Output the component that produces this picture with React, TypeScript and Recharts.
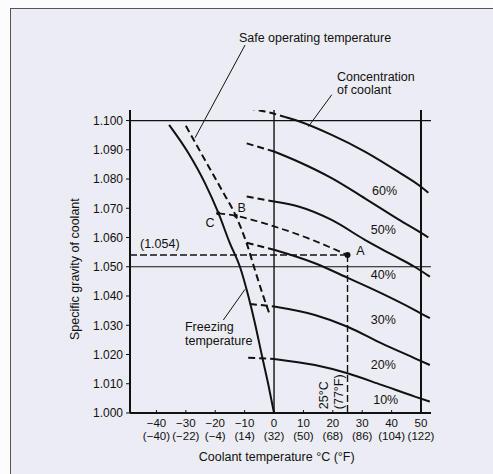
import React from 'react';
import {
  ComposedChart,
  Line,
  XAxis,
  YAxis,
  ReferenceLine,
  ReferenceDot,
} from 'recharts';

// Coolant temperature (°C) vs specific gravity
const freezing = [
  { t: -35.7, sg: 1.0985 },
  { t: -29.1, sg: 1.0888 },
  { t: -23.5, sg: 1.0786 },
  { t: -18.9, sg: 1.0683 },
  { t: -15.0, sg: 1.058 },
  { t: -11.6, sg: 1.05 },
  { t: -8.7, sg: 1.0398 },
  { t: -6.5, sg: 1.0307 },
  { t: -4.2, sg: 1.02 },
  { t: -2.0, sg: 1.01 },
  { t: 0, sg: 1.0 },
];

const safeOperating = [
  { t: -30.0, sg: 1.0982 },
  { t: -23.5, sg: 1.0865 },
  { t: -17.8, sg: 1.0763 },
  { t: -13.0, sg: 1.0674 },
  { t: -9.3, sg: 1.058 },
  { t: -6.5, sg: 1.0489 },
  { t: -3.6, sg: 1.0398 },
  { t: -1.4, sg: 1.0335 },
];

// concentration curves: dashed lead-in below 0 °C, solid above
const c60Dash = [
  { t: -8.9, sg: 1.1042 },
  { t: -3.1, sg: 1.1031 },
  { t: 3.7, sg: 1.1012 },
];
const c60 = [
  { t: 3.7, sg: 1.1012 },
  { t: 7.7, sg: 1.1 },
  { t: 19.6, sg: 1.0951 },
  { t: 30.9, sg: 1.0894 },
  { t: 42.2, sg: 1.0825 },
  { t: 50.2, sg: 1.0772 },
  { t: 52.5, sg: 1.0753 },
];
const c50Dash = [
  { t: -9.3, sg: 1.0922 },
  { t: 0, sg: 1.0894 },
];
const c50 = [
  { t: 0, sg: 1.0894 },
  { t: 8.3, sg: 1.0859 },
  { t: 19.6, sg: 1.0803 },
  { t: 30.9, sg: 1.0734 },
  { t: 42.3, sg: 1.0662 },
  { t: 50.2, sg: 1.0615 },
  { t: 52.5, sg: 1.06 },
];
const c40Dash = [
  { t: -9.3, sg: 1.074 },
  { t: 0, sg: 1.0723 },
];
const c40 = [
  { t: 0, sg: 1.0723 },
  { t: 8.3, sg: 1.0706 },
  { t: 19.6, sg: 1.066 },
  { t: 30.9, sg: 1.0592 },
  { t: 40.0, sg: 1.0542 },
  { t: 47.8, sg: 1.05 },
  { t: 53.0, sg: 1.0466 },
];
const c30Dash = [
  { t: -9.3, sg: 1.0582 },
  { t: 0, sg: 1.0558 },
];
const c30 = [
  { t: 0, sg: 1.0558 },
  { t: 13.9, sg: 1.0512 },
  { t: 25.3, sg: 1.0461 },
  { t: 36.6, sg: 1.0409 },
  { t: 47.9, sg: 1.0352 },
  { t: 53.0, sg: 1.0324 },
];
const c20Dash = [
  { t: -8.2, sg: 1.0373 },
  { t: 0, sg: 1.0364 },
];
const c20 = [
  { t: 0, sg: 1.0364 },
  { t: 13.9, sg: 1.0335 },
  { t: 25.0, sg: 1.0295 },
  { t: 36.6, sg: 1.0238 },
  { t: 47.9, sg: 1.0187 },
  { t: 53.0, sg: 1.0164 },
];
const c10Dash = [
  { t: -8.8, sg: 1.0189 },
  { t: 0, sg: 1.0185 },
];
const c10 = [
  { t: 0, sg: 1.0185 },
  { t: 13.9, sg: 1.0164 },
  { t: 25.0, sg: 1.0136 },
  { t: 36.6, sg: 1.0096 },
  { t: 47.9, sg: 1.0056 },
  { t: 53.0, sg: 1.0039 },
];

// worked example: C -> B -> A, and the 1.054 / 25 °C read-off lines
const exampleLine = [
  { t: -19.0, sg: 1.0683 },
  { t: -13.0, sg: 1.0674 },
  { t: 0, sg: 1.0638 },
  { t: 11.7, sg: 1.0597 },
  { t: 25, sg: 1.054 },
];
const readSg = [
  { t: -49, sg: 1.054 },
  { t: 25, sg: 1.054 },
];
const readTemp = [
  { t: 25, sg: 1.054 },
  { t: 25, sg: 1.0 },
];
const pointA = { t: 25, sg: 1.054 };
const pointB = { t: -13.0, sg: 1.0674 };
const pointC = { t: -19.0, sg: 1.0683 };

const yTicks = [1.0, 1.01, 1.02, 1.03, 1.04, 1.05, 1.06, 1.07, 1.08, 1.09, 1.1];
const xTicks = [-40, -30, -20, -10, 0, 10, 20, 30, 40, 50];
const xTicksF = ['(−40)', '(−22)', '(−4)', '(14)', '(32)', '(50)', '(68)', '(86)', '(104)', '(122)'];

// annotation texts, placed in data coordinates
const notes = [
  { t: 13.95, sg: 1.1282, text: 'Safe operating temperature', anchor: 'middle' },
  { t: 21.4, sg: 1.115, text: 'Concentration', anchor: 'start' },
  { t: 21.4, sg: 1.1105, text: 'of coolant', anchor: 'start' },
  { t: -30.3, sg: 1.0295, text: 'Freezing', anchor: 'start' },
  { t: -30.3, sg: 1.0246, text: 'temperature', anchor: 'start' },
  { t: -45.6, sg: 1.0577, text: '(1.054)', anchor: 'start' },
  { t: 28.0, sg: 1.0554, text: 'A', anchor: 'start' },
  { t: -11.0, sg: 1.07, text: 'B', anchor: 'middle' },
  { t: -21.8, sg: 1.0651, text: 'C', anchor: 'middle' },
  { t: 37.6, sg: 1.0759, text: '60%', anchor: 'middle' },
  { t: 37.2, sg: 1.0626, text: '50%', anchor: 'middle' },
  { t: 37.2, sg: 1.0472, text: '40%', anchor: 'middle' },
  { t: 37.2, sg: 1.0318, text: '30%', anchor: 'middle' },
  { t: 37.2, sg: 1.0164, text: '20%', anchor: 'middle' },
  { t: 38.0, sg: 1.0044, text: '10%', anchor: 'middle' },
  { t: 0.9, sg: 0.98506, text: 'Coolant temperature °C (°F)', anchor: 'middle' },
];
const rotatedNotes = [
  { t: 17.0, sg: 1.0013, text: '25°C', anchor: 'start' },
  { t: 22.1, sg: 1.0013, text: '(77°F)', anchor: 'start' },
  { t: -67.7, sg: 1.0492, text: 'Specific gravity of coolant', anchor: 'middle' },
];
const leaders = [
  [{ t: -9.86, sg: 1.1258 }, { t: -26.87, sg: 1.0941 }],
  [{ t: 19.63, sg: 1.1088 }, { t: 11.67, sg: 1.0979 }],
  [{ t: -17.24, sg: 1.0318 }, { t: -9.86, sg: 1.0423 }],
];

const INK = '#111';
const FONT = '"Liberation Sans", Arial, Helvetica, sans-serif';

const TempTick = (props: any) => {
  const { x, y, payload, index } = props;
  const c = payload.value < 0 ? `−${Math.abs(payload.value)}` : `${payload.value}`;
  return (
    <g>
      <line x1={x} x2={x} y1={y} y2={y - 3} stroke={INK} strokeWidth={1} />
      <text x={x} y={y + 14} textAnchor="middle" fontSize={11.5} fill={INK} fontFamily={FONT}>
        {c}
      </text>
      <text x={x} y={y + 26.5} textAnchor="middle" fontSize={11.5} fill={INK} fontFamily={FONT}>
        {xTicksF[index]}
      </text>
    </g>
  );
};

const solid = (data: any[], key: string) => (
  <Line
    key={key}
    data={data}
    dataKey="sg"
    type="monotone"
    stroke={INK}
    strokeWidth={2}
    dot={false}
    isAnimationActive={false}
  />
);

const dashed = (data: any[], key: string, width = 2, dash = '7 4', curve: any = 'monotone') => (
  <Line
    key={key}
    data={data}
    dataKey="sg"
    type={curve}
    stroke={INK}
    strokeWidth={width}
    strokeDasharray={dash}
    dot={false}
    isAnimationActive={false}
  />
);

export default function App() {
  return (
    <div
      style={{
        position: 'absolute',
        left: 0,
        top: 0,
        width: 493,
        height: 474,
        overflow: 'hidden',
        background: '#fcfcfd',
      }}
    >
      <div
        style={{
          position: 'absolute',
          left: 10,
          top: 8,
          width: 500,
          height: 480,
          border: '1px solid #555',
          background: '#ececf4',
        }}
      />
      <div style={{ position: 'absolute', left: 0, top: 0 }}>
        <ComposedChart width={493} height={474} margin={{ top: 110, right: 62, bottom: 31, left: 70 }}>
          <XAxis
            dataKey="t"
            type="number"
            domain={[-49, 53.4]}
            allowDataOverflow
            ticks={xTicks}
            interval={0}
            tickSize={0}
            tickMargin={0}
            tickLine={false}
            tick={<TempTick />}
            height={30}
            axisLine={{ stroke: INK, strokeWidth: 2 }}
          />
          <YAxis
            type="number"
            domain={[1.0, 1.1036]}
            allowDataOverflow
            ticks={yTicks}
            interval={0}
            width={60}
            tickFormatter={(v: number) => v.toFixed(3)}
            tick={{ fill: INK, fontSize: 12, fontFamily: FONT }}
            tickSize={4}
            tickMargin={3}
            tickLine={{ stroke: INK }}
            axisLine={{ stroke: INK, strokeWidth: 2 }}
          />

          <ReferenceLine y={1.1} stroke={INK} strokeWidth={1.2} />
          <ReferenceLine y={1.05} stroke={INK} strokeWidth={1.2} />
          <ReferenceLine x={0} stroke={INK} strokeWidth={1.4} />
          <ReferenceLine x={50} stroke={INK} strokeWidth={2} />

          {solid(freezing, 'freezing')}
          {dashed(safeOperating, 'safe')}

          {dashed(c60Dash, 'c60d')}
          {solid(c60, 'c60')}
          {dashed(c50Dash, 'c50d')}
          {solid(c50, 'c50')}
          {dashed(c40Dash, 'c40d')}
          {solid(c40, 'c40')}
          {dashed(c30Dash, 'c30d')}
          {solid(c30, 'c30')}
          {dashed(c20Dash, 'c20d')}
          {solid(c20, 'c20')}
          {dashed(c10Dash, 'c10d')}
          {solid(c10, 'c10')}

          {dashed(exampleLine, 'example', 1.8, '7 4')}
          {dashed(readSg, 'readSg', 1.4, '7 3', 'linear')}
          {dashed(readTemp, 'readTemp', 1.4, '7 3', 'linear')}

          <ReferenceDot x={pointA.t} y={pointA.sg} r={3} fill={INK} stroke="none" />
          <ReferenceDot x={pointB.t} y={pointB.sg} r={2} fill={INK} stroke="none" />
          <ReferenceDot x={pointC.t} y={pointC.sg} r={2} fill={INK} stroke="none" />

          {leaders.map((seg, i) => (
            <ReferenceLine
              key={`lead${i}`}
              segment={[
                { x: seg[0].t, y: seg[0].sg },
                { x: seg[1].t, y: seg[1].sg },
              ]}
              stroke={INK}
              strokeWidth={1}
              ifOverflow="visible"
            />
          ))}

          {notes.map((n, i) => (
            <ReferenceDot
              key={`note${i}`}
              x={n.t}
              y={n.sg}
              r={0}
              ifOverflow="visible"
              shape={(p: any) => (
                <text
                  x={p.cx}
                  y={p.cy}
                  textAnchor={n.anchor}
                  dominantBaseline="central"
                  fontSize={12.5}
                  fill={INK}
                  fontFamily={FONT}
                >
                  {n.text}
                </text>
              )}
            />
          ))}
          {rotatedNotes.map((n, i) => (
            <ReferenceDot
              key={`rnote${i}`}
              x={n.t}
              y={n.sg}
              r={0}
              ifOverflow="visible"
              shape={(p: any) => (
                <text
                  x={p.cx}
                  y={p.cy}
                  transform={`rotate(-90 ${p.cx} ${p.cy})`}
                  textAnchor={n.anchor}
                  dominantBaseline="central"
                  fontSize={12.5}
                  fill={INK}
                  fontFamily={FONT}
                >
                  {n.text}
                </text>
              )}
            />
          ))}
        </ComposedChart>
      </div>
    </div>
  );
}
